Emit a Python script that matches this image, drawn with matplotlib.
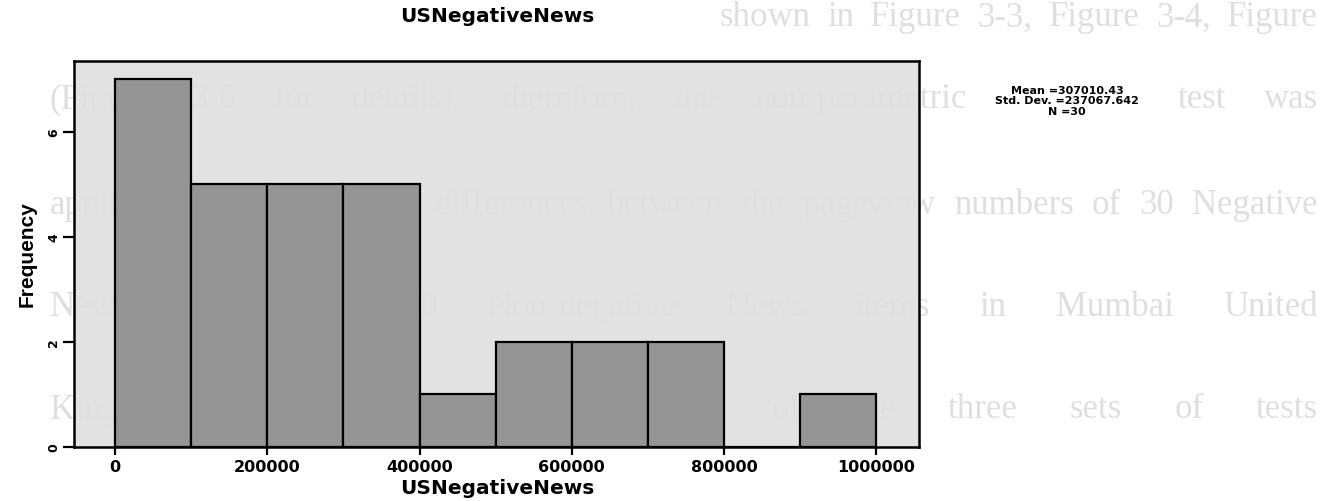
import numpy as np
import matplotlib
matplotlib.use("Agg")
import matplotlib.pyplot as plt

# histogram of pageviews, 100000-wide bins
bin_edges = [0, 100000, 200000, 300000, 400000, 500000,
             600000, 700000, 800000, 900000, 1000000]
counts = [7, 5, 5, 5, 1, 2, 2, 2, 0, 1]

x_ticks = [0, 200000, 400000, 600000, 800000, 1000000]
y_ticks = [0, 2, 4, 6]

stats_lines = ["Mean =307010.43", "Std. Dev. =237067.642", "N =30"]

# faint page text showing through the scan: (text, y, x start, x end) in pixels
page_lines = [
    ("shown in Figure 3-3, Figure 3-4, Figure", 18, 720, 1318),
    ("(Figure 3-6 for details); therefore, the non-parametric Wilcoxon test was", 100, 50, 1318),
    ("applied to determine the differences between the pageview numbers of 30 Negative", 205, 50, 1318),
    ("News items and 30 Non-negative News items in Mumbai United", 308, 50, 1318),
    ("Kingdom (Table 3-5). The P-values of the three sets of tests", 410, 50, 1318),
]

W, H = 1331, 502
fig = plt.figure(figsize=(W / 100, H / 100), dpi=100)
fig.patch.set_facecolor("white")
renderer = fig.canvas.get_renderer()

ax = fig.add_axes([74 / W, 54 / H, 845 / W, 386 / H])
ax.set_facecolor((0.88, 0.88, 0.88, 0.92))
ax.set_zorder(2)

widths = np.diff(bin_edges)
ax.bar(bin_edges[:-1], counts, width=widths, align="edge",
       color="#959595", edgecolor="black", linewidth=1.6)

ax.set_xlim(-54000, 1056000)
ax.set_ylim(0, 7.35)
ax.set_xticks(x_ticks)
ax.set_xticklabels([str(v) for v in x_ticks])
ax.set_yticks(y_ticks)
ax.set_yticklabels([str(v) for v in y_ticks], rotation=90, va="center")

for s in ax.spines.values():
    s.set_linewidth(1.8)

ax.tick_params(axis="x", direction="out", length=6, width=1.6, pad=3)
ax.tick_params(axis="y", direction="out", length=8, width=1.6, pad=2)
for lab in ax.get_xticklabels():
    lab.set_fontweight("bold")
    lab.set_fontsize(11.5)
for lab in ax.get_yticklabels():
    lab.set_fontweight("bold")
    lab.set_fontsize(9)

labels = []
labels.append(fig.text(27 / W, 1 - 254 / H, "Frequency", rotation=90,
                       ha="center", va="center", fontsize=15, fontweight="bold",
                       family=["Liberation Sans Narrow", "Liberation Sans", "DejaVu Sans"],
                       zorder=3))
labels.append(fig.text(497 / W, 1 - 17 / H, "USNegativeNews", ha="center",
                       va="center", fontsize=14.5, fontweight="bold", zorder=3))
labels.append(fig.text(497 / W, 1 - 489 / H, "USNegativeNews", ha="center",
                       va="center", fontsize=14.5, fontweight="bold", zorder=3))
for i, line in enumerate(stats_lines):
    labels.append(fig.text(1067 / W, 1 - (91 + 10.5 * i) / H, line, ha="center",
                           va="center", fontsize=8, fontweight="bold", zorder=3))

label_boxes = [t.get_window_extent(renderer).expanded(1.02, 1.1) for t in labels]


def justified_line(text, y, x0, x1):
    # spread the words from x0 to x1; words hidden under chart labels are left out
    words = text.split()
    items = [fig.text(0, 1 - y / H, w, ha="left", va="center", fontsize=25,
                      family="Liberation Serif", color="#dfdfdf", zorder=0)
             for w in words]
    widths = [t.get_window_extent(renderer).width for t in items]
    gap = (x1 - x0 - sum(widths)) / max(len(words) - 1, 1)
    x = x0
    for t, w in zip(items, widths):
        t.set_x(x / W)
        x += w + gap
        box = t.get_window_extent(renderer)
        if any(box.overlaps(b) for b in label_boxes):
            t.remove()


for txt, y, x0, x1 in page_lines:
    justified_line(txt, y, x0, x1)

fig.savefig("out.png", dpi=100)
